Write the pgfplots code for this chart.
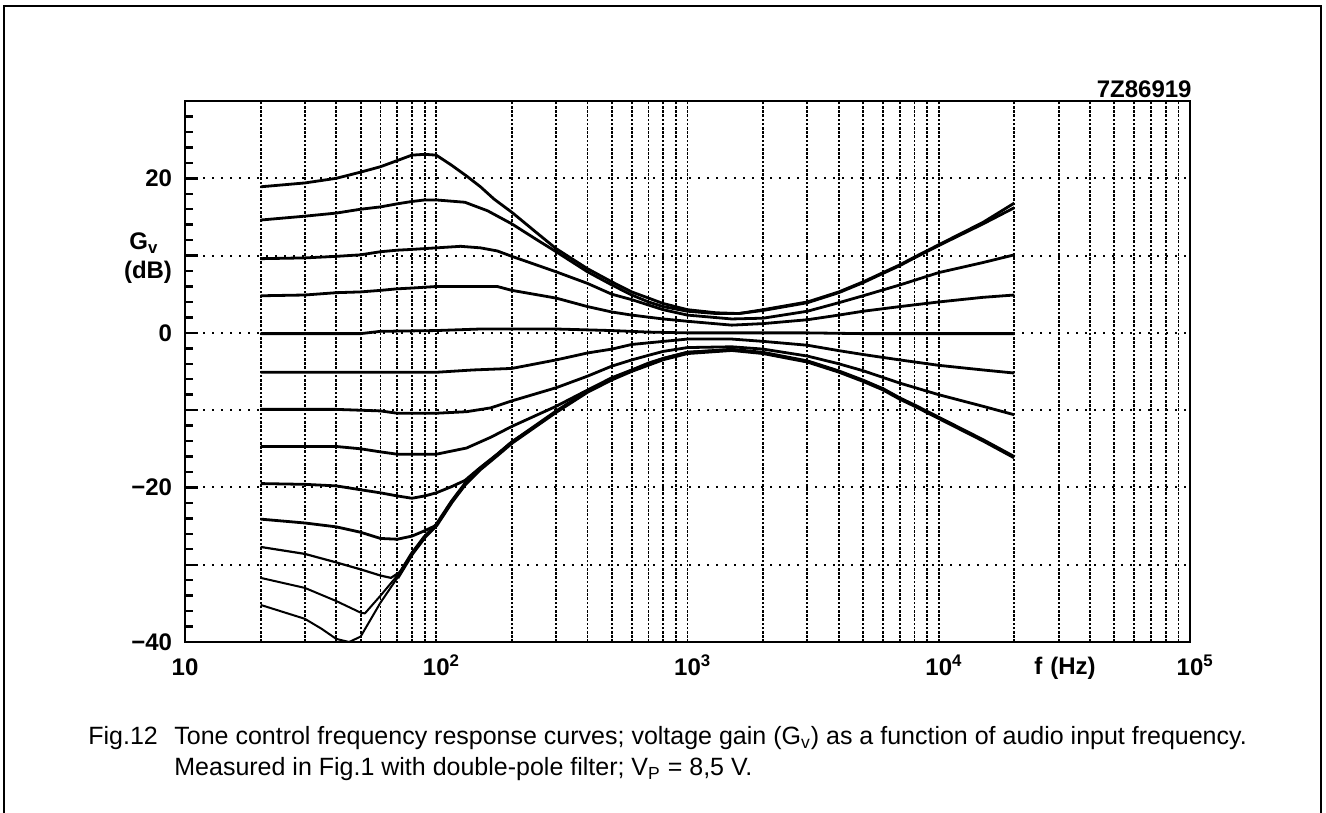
\documentclass[border=0pt]{standalone}
\usepackage{pgfplots}
\pgfplotsset{compat=1.18}
\usepackage{fontspec}
\setmainfont{Liberation Sans}
\newcommand{\tickfont}{\bfseries\fontsize{12bp}{14bp}\selectfont}
\newcommand{\capfont}{\fontsize{12.5bp}{15bp}\selectfont}
\begin{document}
\begin{tikzpicture}
\useasboundingbox (0,0) rectangle (663bp,-406.5bp);
\begin{axis}[
  at={(92.5bp,-321bp)}, anchor=south west,
  scale only axis, width=502.5bp, height=270.5bp,
  xmode=log, log basis x=10,
  xmin=10, xmax=100000, ymin=-40, ymax=30,
  axis line style={line width=1.4bp},
  xtick={10,100,1000,10000,100000},
  xticklabels={10,10\rlap{\textsuperscript{2}},10\rlap{\textsuperscript{3}},10\rlap{\textsuperscript{4}},10\rlap{\textsuperscript{5}}},
  minor xtick={20,30,40,50,60,70,80,90,200,300,400,500,600,700,800,900,2000,3000,4000,5000,6000,7000,8000,9000,20000,30000,40000,50000,60000,70000,80000,90000},
  xmajorgrids, xminorgrids,
  ytick={-40,-30,-20,-10,0,10,20,30},
  yticklabels={−40,,−20,,0,,20,},
  minor ytick={-38,-36,-34,-32,-28,-26,-24,-22,-18,-16,-14,-12,-8,-6,-4,-2,2,4,6,8,12,14,16,18,22,24,26,28},
  ymajorgrids,
  tick align=inside,
  ytick pos=left,
  major tick length=6.5bp, minor tick length=4bp,
  tick style={black, line width=1.2bp},
  xtick style={draw=none},
  ticklabel style={font=\tickfont},
  xticklabel style={anchor=base, yshift=-16.5bp},
  yticklabel style={xshift=-3bp},
  every axis x grid/.style={black, line width=0.9bp, dash pattern=on 1.3bp off 0.8bp},
  every axis y grid/.style={black, line width=1bp, dash pattern=on 1bp off 3.5bp},
  cycle list={black,solid,mark=none\\},
  every axis plot/.append style={line width=1.4bp, line join=round},
]
% A
\addplot coordinates {(20,18.9) (30,19.4) (40,20.0) (50,20.8) (60,21.5) (70,22.3) (80,23.0) (90,23.1) (100,23.0) (115,21.7) (132,20.3) (150,18.9) (170,17.3) (200,15.6) (250,13.0) (300,10.9) (400,8.3) (500,6.6) (600,5.3) (700,4.5) (800,3.8) (1000,3.0) (1300,2.6) (1600,2.5) (2000,3.0) (3000,4.0) (4000,5.3) (5000,6.6) (6000,7.8) (7000,8.8) (8000,9.8) (10000,11.4) (15000,14.3) (20000,16.8)};
% B
\addplot coordinates {(20,14.6) (30,15.1) (40,15.5) (50,16.0) (60,16.3) (70,16.7) (80,17.0) (90,17.2) (100,17.2) (130,16.9) (160,15.8) (200,14.1) (250,12.1) (300,10.5) (400,7.9) (500,6.2) (600,4.9) (700,4.0) (800,3.4) (1000,2.8) (1300,2.5) (1600,2.5) (2000,2.9) (3000,3.9) (4000,5.2) (5000,6.5) (6000,7.7) (7000,8.7) (8000,9.7) (10000,11.3) (15000,14.1) (20000,16.2)};
% C
\addplot coordinates {(20,9.6) (30,9.7) (40,9.9) (50,10.1) (60,10.5) (70,10.7) (80,10.8) (100,11.0) (125,11.2) (150,11.0) (175,10.6) (200,9.9) (250,8.8) (300,7.9) (400,6.4) (500,5.0) (600,4.3) (700,3.6) (800,3.0) (1000,2.3) (1500,1.8) (2000,1.9) (3000,2.8) (4000,3.9) (5000,4.8) (7000,6.2) (10000,7.8) (15000,9.1) (20000,10.1)};
% D
\addplot coordinates {(20,4.8) (30,4.9) (40,5.2) (50,5.3) (60,5.5) (70,5.7) (80,5.8) (100,6.0) (175,6.0) (200,5.5) (300,4.5) (400,3.4) (500,2.7) (600,2.3) (800,1.8) (1000,1.5) (1500,1.0) (2000,1.2) (3000,1.7) (4000,2.3) (5000,2.8) (7000,3.4) (10000,4.0) (15000,4.6) (20000,4.9)};
% E
\addplot coordinates {(20,-0.1) (50,-0.1) (60,0.2) (100,0.3) (150,0.5) (300,0.5) (500,0.3) (700,0.1) (1000,0) (3000,0) (5000,-0.1) (20000,-0.1)};
% F
\addplot coordinates {(20,-5.1) (100,-5.1) (140,-4.8) (200,-4.6) (300,-3.5) (400,-2.6) (500,-2.1) (600,-1.5) (1000,-0.8) (1500,-0.8) (2000,-1.1) (3000,-1.6) (4000,-2.3) (5000,-2.8) (7000,-3.5) (10000,-4.2) (15000,-4.8) (20000,-5.2)};
% G
\addplot coordinates {(20,-9.9) (40,-9.9) (60,-10.1) (70,-10.4) (100,-10.4) (132,-10.2) (165,-9.7) (200,-8.8) (300,-7.1) (400,-5.6) (500,-4.3) (600,-3.5) (700,-2.9) (800,-2.4) (1000,-1.9) (1500,-1.8) (2000,-2.1) (3000,-3.0) (4000,-4.0) (5000,-4.9) (7000,-6.5) (10000,-8.0) (15000,-9.5) (20000,-10.6)};
% H
\addplot coordinates {(20,-14.7) (40,-14.7) (50,-15.0) (60,-15.4) (70,-15.7) (100,-15.7) (132,-14.9) (165,-13.5) (200,-12.1) (300,-9.5) (400,-7.4) (500,-5.8) (600,-4.8) (700,-3.9) (800,-3.3) (1000,-2.5) (1500,-2.2)};
% I
\addplot coordinates {(20,-19.5) (30,-19.6) (40,-19.8) (50,-20.3) (60,-20.7) (70,-21.1) (80,-21.4) (90,-21.1) (100,-20.7) (115,-19.9) (130,-19.1) (150,-17.4) (175,-15.7) (200,-14.1) (250,-12.0)};
% J
\addplot coordinates {(20,-24.1) (30,-24.6) (40,-25.1) (50,-25.8) (60,-26.6) (70,-26.7) (80,-26.3) (90,-25.6) (100,-24.9)};
% K
\addplot[black, line width=1.1bp] coordinates {(20,-27.7) (30,-28.6) (40,-29.7) (50,-30.6) (60,-31.4) (66,-31.7) (72,-30.9) (80,-28.6) (90,-26.4) (100,-24.9)};
% L
\addplot[black, line width=1bp] coordinates {(20,-31.7) (30,-33.0) (40,-34.7) (50,-36.2) (52,-36.3) (60,-34.0) (70,-31.4) (80,-28.6) (90,-26.4) (100,-24.9)};
% M
\addplot[black, line width=1bp] coordinates {(20,-35.2) (30,-37.0) (35,-38.3) (40,-39.6) (45,-40.0) (50,-39.3) (60,-34.9) (70,-31.7) (80,-28.6) (90,-26.4) (100,-24.9)};
% lower bundle
\addplot[black, line width=2bp, line join=round] coordinates {(70,-31.7) (80,-28.6) (90,-26.4) (100,-24.9) (115,-21.9) (130,-19.6) (150,-17.6) (175,-15.8) (200,-14.2) (250,-12.0) (300,-10.2) (400,-7.6) (500,-6.0) (600,-4.9) (700,-4.1) (800,-3.4) (1000,-2.6) (1500,-2.2) (2000,-2.6) (3000,-3.7) (4000,-5.0) (5000,-6.2) (6000,-7.3) (7000,-8.5) (8000,-9.4) (10000,-11.0) (15000,-13.9) (20000,-16.1)};
\end{axis}
\begin{scope}[x=0.5bp,y=-0.5bp]
\draw[line width=1bp] (4,830) -- (4,6) -- (1321,6) -- (1321,830);
\node[font=\tickfont, anchor=base] at (1065,675) {f\kern4bp(Hz)};
\node[font=\tickfont] at (144,243) {G\textsubscript{v}};
\node[font=\tickfont] at (148,272) {(dB)};
\node[font=\tickfont, anchor=base east, inner sep=0] at (1192,98) {7Z86919};
\node[font=\capfont, anchor=base west, inner sep=0] at (88,745) {Fig.12};
\node[font=\capfont, anchor=base west, inner sep=0] at (174,745) {Tone control frequency response curves; voltage gain (G\textsubscript{v}) as a function of audio input frequency.};
\node[font=\capfont, anchor=base west, inner sep=0] at (174,776) {Measured in Fig.1 with double-pole filter; V\textsubscript{P} = 8,5 V.};
\end{scope}
\end{tikzpicture}
\end{document}
